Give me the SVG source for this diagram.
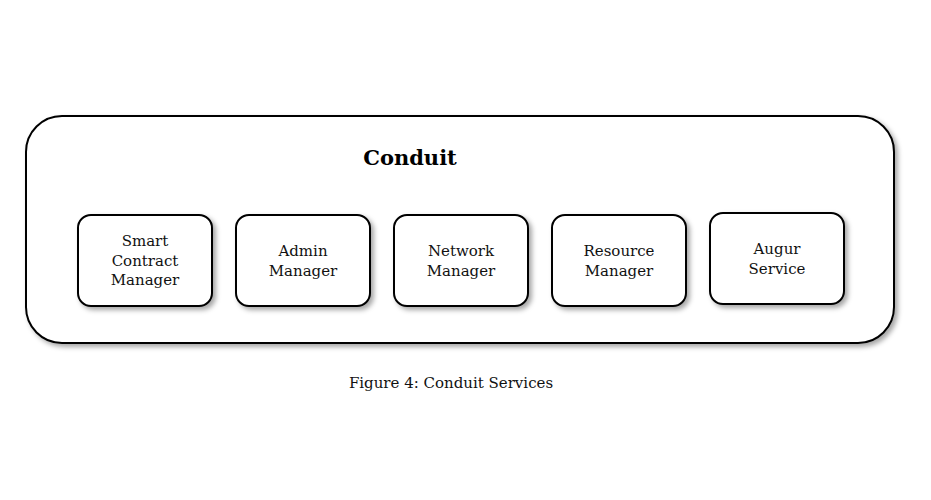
<svg xmlns="http://www.w3.org/2000/svg" width="931" height="500" viewBox="0 0 931 500">
<style>
.box{fill:#fff;stroke:#000;stroke-width:2;filter:url(#sh)}
.lbl{font-family:"DejaVu Serif","Liberation Serif",serif;font-size:15px;fill:#111;text-anchor:middle}
.title{font-family:"DejaVu Serif","Liberation Serif",serif;font-size:21px;font-weight:bold;fill:#000;text-anchor:middle}
.cap{font-family:"DejaVu Serif","Liberation Serif",serif;font-size:15px;fill:#111;text-anchor:middle}
</style>
<defs>
<filter id="sh" x="-10%" y="-10%" width="130%" height="130%">
<feDropShadow dx="3" dy="3" stdDeviation="2.5" flood-color="#000" flood-opacity="0.35"/>
</filter>
</defs>
<rect width="931" height="500" fill="#fff"/>
<g id="conduit">
<rect class="box" x="26" y="116" width="868" height="227" rx="36" ry="36"/>
<text class="title" x="410" y="165">Conduit</text>
</g>
<g id="smart-contract-manager">
<rect class="box" x="78" y="215" width="134" height="91" rx="13" ry="13"/>
<text class="lbl" x="145" y="246">Smart</text>
<text class="lbl" x="145" y="266">Contract</text>
<text class="lbl" x="145" y="285">Manager</text>
</g>
<g id="admin-manager">
<rect class="box" x="236" y="215" width="134" height="91" rx="13" ry="13"/>
<text class="lbl" x="303" y="256">Admin</text>
<text class="lbl" x="303" y="276">Manager</text>
</g>
<g id="network-manager">
<rect class="box" x="394" y="215" width="134" height="91" rx="13" ry="13"/>
<text class="lbl" x="461" y="256">Network</text>
<text class="lbl" x="461" y="276">Manager</text>
</g>
<g id="resource-manager">
<rect class="box" x="552" y="215" width="134" height="91" rx="13" ry="13"/>
<text class="lbl" x="619" y="256">Resource</text>
<text class="lbl" x="619" y="276">Manager</text>
</g>
<g id="augur-service">
<rect class="box" x="710" y="213" width="134" height="91" rx="13" ry="13"/>
<text class="lbl" x="777" y="254">Augur</text>
<text class="lbl" x="777" y="274">Service</text>
</g>
<g id="connectors"/>
<text class="cap" x="451" y="388">Figure 4: Conduit Services</text>
</svg>
